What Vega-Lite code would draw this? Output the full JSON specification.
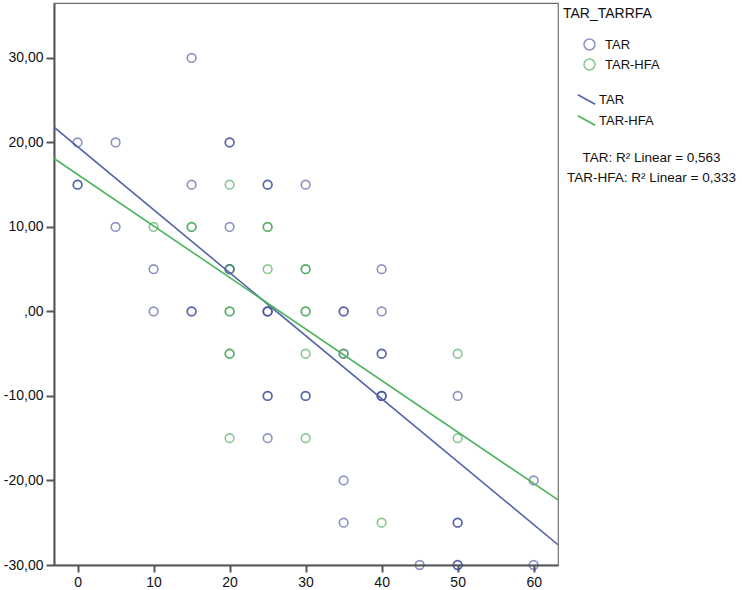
{
  "$schema": "https://vega.github.io/schema/vega-lite/v6.json",
  "autosize": {"type": "none"},
  "width": 504,
  "height": 562,
  "padding": {"left": 54, "top": 3, "right": 184, "bottom": 25},
  "background": "white",
  "config": {
    "font": "Liberation Sans",
    "view": {"fill": "#f0f0f0", "stroke": "#707070", "strokeWidth": 1.2},
    "axis": {
      "domainColor": "#555555", "domainWidth": 2, "tickColor": "#555555", "tickWidth": 2,
      "labelColor": "#111111", "labelFontSize": 14, "labelFont": "Liberation Sans", "grid": false, "title": null
    },
    "legend": {"labelFont": "Liberation Sans", "titleFont": "Liberation Sans", "labelLimit": 400}
  },
  "resolve": {"scale": {"color": "independent", "stroke": "independent"}, "legend": {"color": "independent", "stroke": "independent"}},
  "datasets": {
    "pts": [
      {"grp": "TAR", "x": 15, "y": 30},
      {"grp": "TAR", "x": 0, "y": 20},
      {"grp": "TAR", "x": 5, "y": 20},
      {"grp": "TAR", "x": 20, "y": 20},
      {"grp": "TAR", "x": 20, "y": 20},
      {"grp": "TAR", "x": 0, "y": 15},
      {"grp": "TAR", "x": 0, "y": 15},
      {"grp": "TAR", "x": 15, "y": 15},
      {"grp": "TAR", "x": 25, "y": 15},
      {"grp": "TAR", "x": 25, "y": 15},
      {"grp": "TAR", "x": 30, "y": 15},
      {"grp": "TAR", "x": 5, "y": 10},
      {"grp": "TAR", "x": 20, "y": 10},
      {"grp": "TAR", "x": 10, "y": 5},
      {"grp": "TAR", "x": 20, "y": 5},
      {"grp": "TAR", "x": 20, "y": 5},
      {"grp": "TAR", "x": 40, "y": 5},
      {"grp": "TAR", "x": 10, "y": 0},
      {"grp": "TAR", "x": 15, "y": 0},
      {"grp": "TAR", "x": 15, "y": 0},
      {"grp": "TAR", "x": 25, "y": 0},
      {"grp": "TAR", "x": 25, "y": 0},
      {"grp": "TAR", "x": 25, "y": 0},
      {"grp": "TAR", "x": 35, "y": 0},
      {"grp": "TAR", "x": 35, "y": 0},
      {"grp": "TAR", "x": 40, "y": 0},
      {"grp": "TAR", "x": 35, "y": -5},
      {"grp": "TAR", "x": 40, "y": -5},
      {"grp": "TAR", "x": 40, "y": -5},
      {"grp": "TAR", "x": 25, "y": -10},
      {"grp": "TAR", "x": 25, "y": -10},
      {"grp": "TAR", "x": 30, "y": -10},
      {"grp": "TAR", "x": 30, "y": -10},
      {"grp": "TAR", "x": 40, "y": -10},
      {"grp": "TAR", "x": 40, "y": -10},
      {"grp": "TAR", "x": 40, "y": -10},
      {"grp": "TAR", "x": 50, "y": -10},
      {"grp": "TAR", "x": 25, "y": -15},
      {"grp": "TAR", "x": 35, "y": -20},
      {"grp": "TAR", "x": 60, "y": -20},
      {"grp": "TAR", "x": 35, "y": -25},
      {"grp": "TAR", "x": 50, "y": -25},
      {"grp": "TAR", "x": 50, "y": -25},
      {"grp": "TAR", "x": 45, "y": -30},
      {"grp": "TAR", "x": 50, "y": -30},
      {"grp": "TAR", "x": 50, "y": -30},
      {"grp": "TAR", "x": 60, "y": -30},
      {"grp": "TAR-HFA", "x": 20, "y": 15},
      {"grp": "TAR-HFA", "x": 10, "y": 10},
      {"grp": "TAR-HFA", "x": 15, "y": 10},
      {"grp": "TAR-HFA", "x": 15, "y": 10},
      {"grp": "TAR-HFA", "x": 25, "y": 10},
      {"grp": "TAR-HFA", "x": 25, "y": 10},
      {"grp": "TAR-HFA", "x": 20, "y": 5},
      {"grp": "TAR-HFA", "x": 25, "y": 5},
      {"grp": "TAR-HFA", "x": 30, "y": 5},
      {"grp": "TAR-HFA", "x": 30, "y": 5},
      {"grp": "TAR-HFA", "x": 20, "y": 0},
      {"grp": "TAR-HFA", "x": 20, "y": 0},
      {"grp": "TAR-HFA", "x": 30, "y": 0},
      {"grp": "TAR-HFA", "x": 30, "y": 0},
      {"grp": "TAR-HFA", "x": 20, "y": -5},
      {"grp": "TAR-HFA", "x": 20, "y": -5},
      {"grp": "TAR-HFA", "x": 30, "y": -5},
      {"grp": "TAR-HFA", "x": 35, "y": -5},
      {"grp": "TAR-HFA", "x": 50, "y": -5},
      {"grp": "TAR-HFA", "x": 20, "y": -15},
      {"grp": "TAR-HFA", "x": 30, "y": -15},
      {"grp": "TAR-HFA", "x": 50, "y": -15},
      {"grp": "TAR-HFA", "x": 40, "y": -25}
    ],
    "fit": [
      {"grp": "TAR", "x": -3.1, "y": 21.8},
      {"grp": "TAR", "x": 63.2, "y": -27.6},
      {"grp": "TAR-HFA", "x": -3.1, "y": 18.1},
      {"grp": "TAR-HFA", "x": 63.2, "y": -22.3}
    ],
    "stats": [
      {"stat": "TAR: R² Linear = 0,563"},
      {"stat": "TAR-HFA: R² Linear = 0,333"}
    ]
  },
  "layer": [
    {
      "data": {"name": "pts"},
      "mark": {"type": "point", "shape": "circle", "filled": false, "size": 75, "strokeWidth": 1.6, "opacity": 0.6, "clip": false},
      "encoding": {
        "x": {"field": "x", "type": "quantitative",
          "scale": {"domain": [-3.1, 63.2], "nice": false, "zero": false},
          "axis": {"values": [0, 10, 20, 30, 40, 50, 60], "tickSize": 7, "labelPadding": 3}},
        "y": {"field": "y", "type": "quantitative",
          "scale": {"domain": [-30, 36.5], "nice": false, "zero": false},
          "axis": {"values": [-30, -20, -10, 0, 10, 20, 30], "tickSize": 8, "labelPadding": 3,
            "labelExpr": "datum.value == 0 ? ',00' : (datum.value < 0 ? '-' : '') + replace(format(abs(datum.value), '.2f'), '.', ',')"}},
        "color": {"field": "grp", "type": "nominal",
          "scale": {"domain": ["TAR", "TAR-HFA"], "range": ["#3e4c98", "#39a24c"]},
          "legend": {"title": "TAR_TARRFA", "orient": "none", "legendX": 509, "legendY": 4,
            "titleFontSize": 14, "titleFontWeight": "normal", "titleColor": "#111111", "titlePadding": 17,
            "labelFontSize": 13, "labelColor": "#111111", "labelOffset": 9,
            "symbolType": "circle", "symbolSize": 120, "symbolStrokeWidth": 1.5, "symbolFillColor": "transparent", "symbolOpacity": 0.6,
            "symbolOffset": 20, "rowPadding": 3}}
      }
    },
    {
      "data": {"name": "fit"},
      "mark": {"type": "line", "strokeWidth": 1.6, "clip": true},
      "encoding": {
        "x": {"field": "x", "type": "quantitative"},
        "y": {"field": "y", "type": "quantitative"},
        "stroke": {"field": "grp", "type": "nominal",
          "scale": {"domain": ["TAR", "TAR-HFA"], "range": ["#5563a8", "#4bb35a"]},
          "legend": {"title": null, "orient": "none", "legendX": 523, "legendY": 87,
            "labelFontSize": 13, "labelColor": "#111111", "labelOffset": 3,
            "symbolType": "M-1,-0.55L1,0.55", "symbolSize": 300, "symbolStrokeWidth": 1.6, "rowPadding": 3}}
      }
    },
    {
      "data": {"name": "stats"},
      "mark": {"type": "point", "opacity": 0},
      "encoding": {
        "shape": {"field": "stat", "type": "nominal",
          "scale": {"domain": ["TAR: R² Linear = 0,563", "TAR-HFA: R² Linear = 0,333"]},
          "legend": {"title": null, "orient": "none", "legendX": 584, "legendY": 148,
            "labelFontSize": 13.5, "labelColor": "#111111", "labelAlign": "center", "labelOffset": 0, "labelLimit": 400,
            "symbolOpacity": 0, "symbolSize": 0, "symbolStrokeWidth": 0, "rowPadding": 5}}
      }
    }
  ]
}
